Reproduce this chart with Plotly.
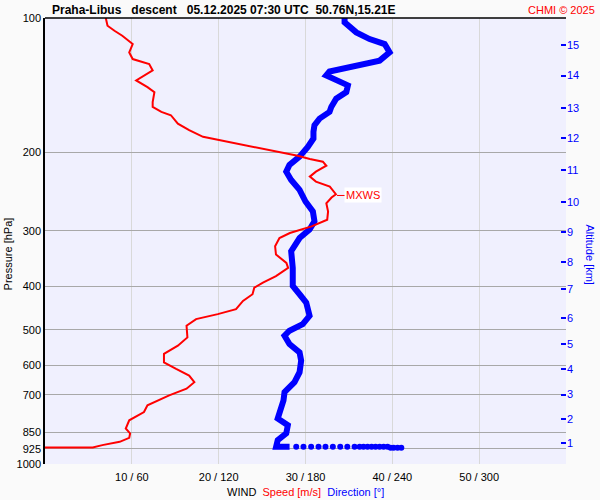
import math

import plotly.graph_objects as go

# wind speed profile (hPa, m/s)
speed_pressure = [100, 104.1, 106.8, 109.6, 114.4, 119.4, 123.6, 126.8, 131.1, 134.5, 138.0, 142.9,
                  146.6, 154.3, 158.3, 162.4, 165.2, 172.5, 178.5, 184.7, 187.8, 192.7, 196.7, 203.6,
                  207.1, 210.0, 214.4, 221.1, 226.8, 232.7, 238.8, 248.4, 252.7, 260.2, 271.5, 283.3,
                  293.2, 303.5, 311.4, 324.9, 339.1, 354.0, 363.2, 379.0, 392.2, 402.5, 416.3, 430.8,
                  449.6, 461.3, 473.3, 489.9, 520.2, 542.9, 566.5, 591.5, 611.9, 633.3, 655.4, 678.0,
                  701.8, 738.8, 764.6, 797.9, 832.5, 854.0, 873.8, 891.9, 907.1, 917.9, 917.9]
speed_ms = [7.0, 7.2, 8.0, 8.9, 10.1, 9.7, 10.1, 12.0, 12.4, 11.4, 10.5, 11.8,
            12.6, 12.4, 12.4, 13.4, 14.5, 15.3, 16.6, 18.2, 20.1, 22.8, 25.5, 29.1,
            30.5, 32.0, 32.4, 31.2, 30.5, 31.2, 32.8, 33.5, 33.0, 32.4, 32.6, 32.5,
            30.7, 28.2, 27.0, 26.5, 26.6, 27.8, 28.0, 26.6, 25.1, 24.1, 23.9, 22.8,
            22.0, 19.9, 17.4, 16.3, 16.4, 15.3, 13.7, 13.7, 15.1, 16.6, 17.2, 16.3,
            14.3, 11.8, 11.4, 9.7, 9.3, 9.8, 9.7, 8.6, 6.6, 5.5, 0.0]

# wind direction profile (hPa, deg)
dir_pressure = [100, 102.3, 107.7, 111.5, 114.4, 119.4, 124.6, 127.8, 131.8, 134.5, 138.0, 141.6,
                146.6, 151.7, 158.3, 162.4, 168.1, 173.9, 180.0, 186.3, 194.5, 204.6, 213.6, 221.1,
                230.7, 242.8, 257.9, 271.5, 285.8, 298.2, 311.4, 333.3, 363.2, 398.9, 416.3, 434.6,
                465.4, 485.6, 502.6, 515.7, 538.2, 561.8, 586.3, 622.6, 655.4, 690.0, 720.0, 758.1,
                790.9, 818.5, 854.1, 884.1, 915.0, 915.0]
dir_deg = [207.0, 207.0, 215.1, 224.3, 234.7, 238.1, 231.2, 215.1, 196.6, 194.3, 201.2, 209.3,
           208.2, 201.2, 197.8, 196.6, 189.7, 186.2, 185.5, 185.5, 181.6, 175.9, 168.9, 166.7,
           170.1, 175.9, 180.0, 185.1, 186.2, 182.8, 175.9, 170.1, 171.2, 171.2, 175.9, 180.5,
           182.8, 178.1, 168.9, 165.5, 168.9, 175.9, 177.0, 175.9, 172.4, 165.5, 164.8, 162.0,
           160.8, 167.8, 166.7, 160.8, 159.7, 169.0]

# near-surface direction samples (drawn as dots)
surf_pressure = [915] * 17 + [920] * 4
surf_deg = [173.6, 178.6, 183.9, 189.0, 193.8, 198.9, 204.0, 208.9, 213.9, 217.4, 220.1,
            222.9, 225.7, 228.4, 231.2, 234.0, 236.7, 238.8, 240.9, 243.6, 246.2]

# max wind
mxws_pressure = 250
mxws_speed = 33.4

pressure_ticks = [100, 200, 300, 400, 500, 600, 700, 850, 925, 1000]
speed_ticks = [10, 20, 30, 40, 50, 60]
speed_labels = ["10 / 60", "20 / 120", "30 / 180", "40 / 240", "50 / 300", ""]
altitude_km = [1, 2, 3, 4, 5, 6, 7, 8, 9, 10, 11, 12, 13, 14, 15]
altitude_pressure = [896.6, 793.6, 699.0, 611.7, 537.3, 470.1, 405.8, 352.2, 302.3, 258.3,
                     218.8, 185.9, 158.9, 134.6, 114.8]

FONT = "Arial, Liberation Sans, sans-serif"
RED = "#ff0000"
BLUE = "#0000ff"

figure = go.Figure()
figure.add_trace(go.Scatter(
    x=[d / 6 for d in dir_deg], y=dir_pressure, mode="lines",
    line={"color": BLUE, "width": 6}, hoverinfo="skip", showlegend=False,
))
figure.add_trace(go.Scatter(
    x=[d / 6 for d in surf_deg], y=surf_pressure, mode="markers",
    marker={"color": BLUE, "size": 6}, hoverinfo="skip", showlegend=False,
))
figure.add_trace(go.Scatter(
    x=speed_ms, y=speed_pressure, mode="lines",
    line={"color": RED, "width": 2}, hoverinfo="skip", showlegend=False,
))
figure.add_trace(go.Scatter(x=[None], y=[None], yaxis="y2", showlegend=False, hoverinfo="skip"))

mxws_log = math.log10(mxws_pressure)

figure.update_layout(
    width=600,
    height=500,
    paper_bgcolor="#fafafa",
    plot_bgcolor="#f0f0fe",
    margin={"l": 45, "r": 34, "t": 16, "b": 36},
    font={"family": FONT, "size": 11, "color": "black"},
    hovermode=False,
    xaxis={
        "range": [0, 60],
        "tickvals": speed_ticks,
        "ticktext": speed_labels,
        "showgrid": True,
        "gridcolor": "#d9d9d9",
        "zeroline": False,
        "showline": False,
        "ticks": "",
        "ticklabelstandoff": 5,
        "tickfont": {"size": 11, "color": "black"},
    },
    yaxis={
        "type": "log",
        "range": [3, 2],
        "tickvals": pressure_ticks,
        "ticktext": [str(p) for p in pressure_ticks],
        "showgrid": True,
        "gridcolor": "#a8a8a8",
        "zeroline": False,
        "showline": True,
        "linecolor": "black",
        "linewidth": 1.5,
        "ticks": "",
        "tickfont": {"size": 11, "color": "black"},
    },
    yaxis2={
        "type": "log",
        "range": [3, 2],
        "overlaying": "y",
        "side": "right",
        "tickvals": altitude_pressure,
        "ticktext": [str(k) for k in altitude_km],
        "ticks": "inside",
        "ticklen": 5,
        "tickwidth": 1.5,
        "tickcolor": BLUE,
        "tickfont": {"size": 11, "color": BLUE},
        "showgrid": False,
        "zeroline": False,
        "showline": False,
    },
    shapes=[
        {"type": "line", "xref": "paper", "yref": "paper", "x0": 0, "x1": 1, "y0": 1, "y1": 1,
         "line": {"color": "black", "width": 1.5}},
        {"type": "line", "xref": "paper", "yref": "y", "x0": -0.004, "x1": 0.021,
         "y0": mxws_log, "y1": mxws_log, "line": {"color": RED, "width": 1}},
        {"type": "line", "xref": "paper", "yref": "y", "x0": 0.979, "x1": 1.004,
         "y0": mxws_log, "y1": mxws_log, "line": {"color": RED, "width": 1}},
    ],
    annotations=[
        {"text": "<b>Praha-Libus\u00a0\u00a0\u00a0descent\u00a0\u00a0\u00a005.12.2025 07:30 UTC\u00a0\u00a050.76N,15.21E</b>",
         "xref": "paper", "yref": "paper", "x": 0.0096, "y": 1, "xanchor": "left", "yanchor": "middle",
         "yshift": 8.5, "showarrow": False, "font": {"size": 12, "color": "black"}},
        {"text": "CHMI © 2025", "xref": "paper", "yref": "paper", "x": 1.06, "y": 1,
         "xanchor": "right", "yanchor": "middle", "yshift": 8.5, "showarrow": False,
         "font": {"size": 11, "color": RED}},
        {"text": "MXWS", "x": mxws_speed, "y": mxws_log, "xref": "x", "yref": "y",
         "showarrow": True, "arrowhead": 0, "arrowwidth": 1, "arrowcolor": RED,
         "ax": 28, "ay": 0, "standoff": 2, "bgcolor": "white",
         "font": {"size": 11, "color": RED}},
        {"text": "WIND\u00a0\u00a0<span style='color:#ff0000'>Speed [m/s]</span>\u00a0\u00a0"
                 "<span style='color:#0000ff'>Direction [°]</span>",
         "xref": "paper", "yref": "paper", "x": 0.5, "y": 0, "xanchor": "center",
         "yanchor": "middle", "yshift": -28, "showarrow": False, "font": {"size": 11, "color": "black"}},
        {"text": "Pressure [hPa]", "xref": "paper", "yref": "paper", "x": 0, "y": 0.47,
         "xanchor": "center", "yanchor": "middle", "xshift": -37, "textangle": -90,
         "showarrow": False, "font": {"size": 11, "color": "black"}},
        {"text": "Altitude [km]", "xref": "paper", "yref": "paper", "x": 1, "y": 0.47,
         "xanchor": "center", "yanchor": "middle", "xshift": 24, "textangle": 90,
         "showarrow": False, "font": {"size": 11, "color": BLUE}},
    ],
)

# drop the default page margin so the 600x500 figure fills the window exactly
figure.write_html(
    "out.html",
    config={"displayModeBar": False},
    post_script="document.body.style.margin='0';document.body.style.overflow='hidden';",
)
